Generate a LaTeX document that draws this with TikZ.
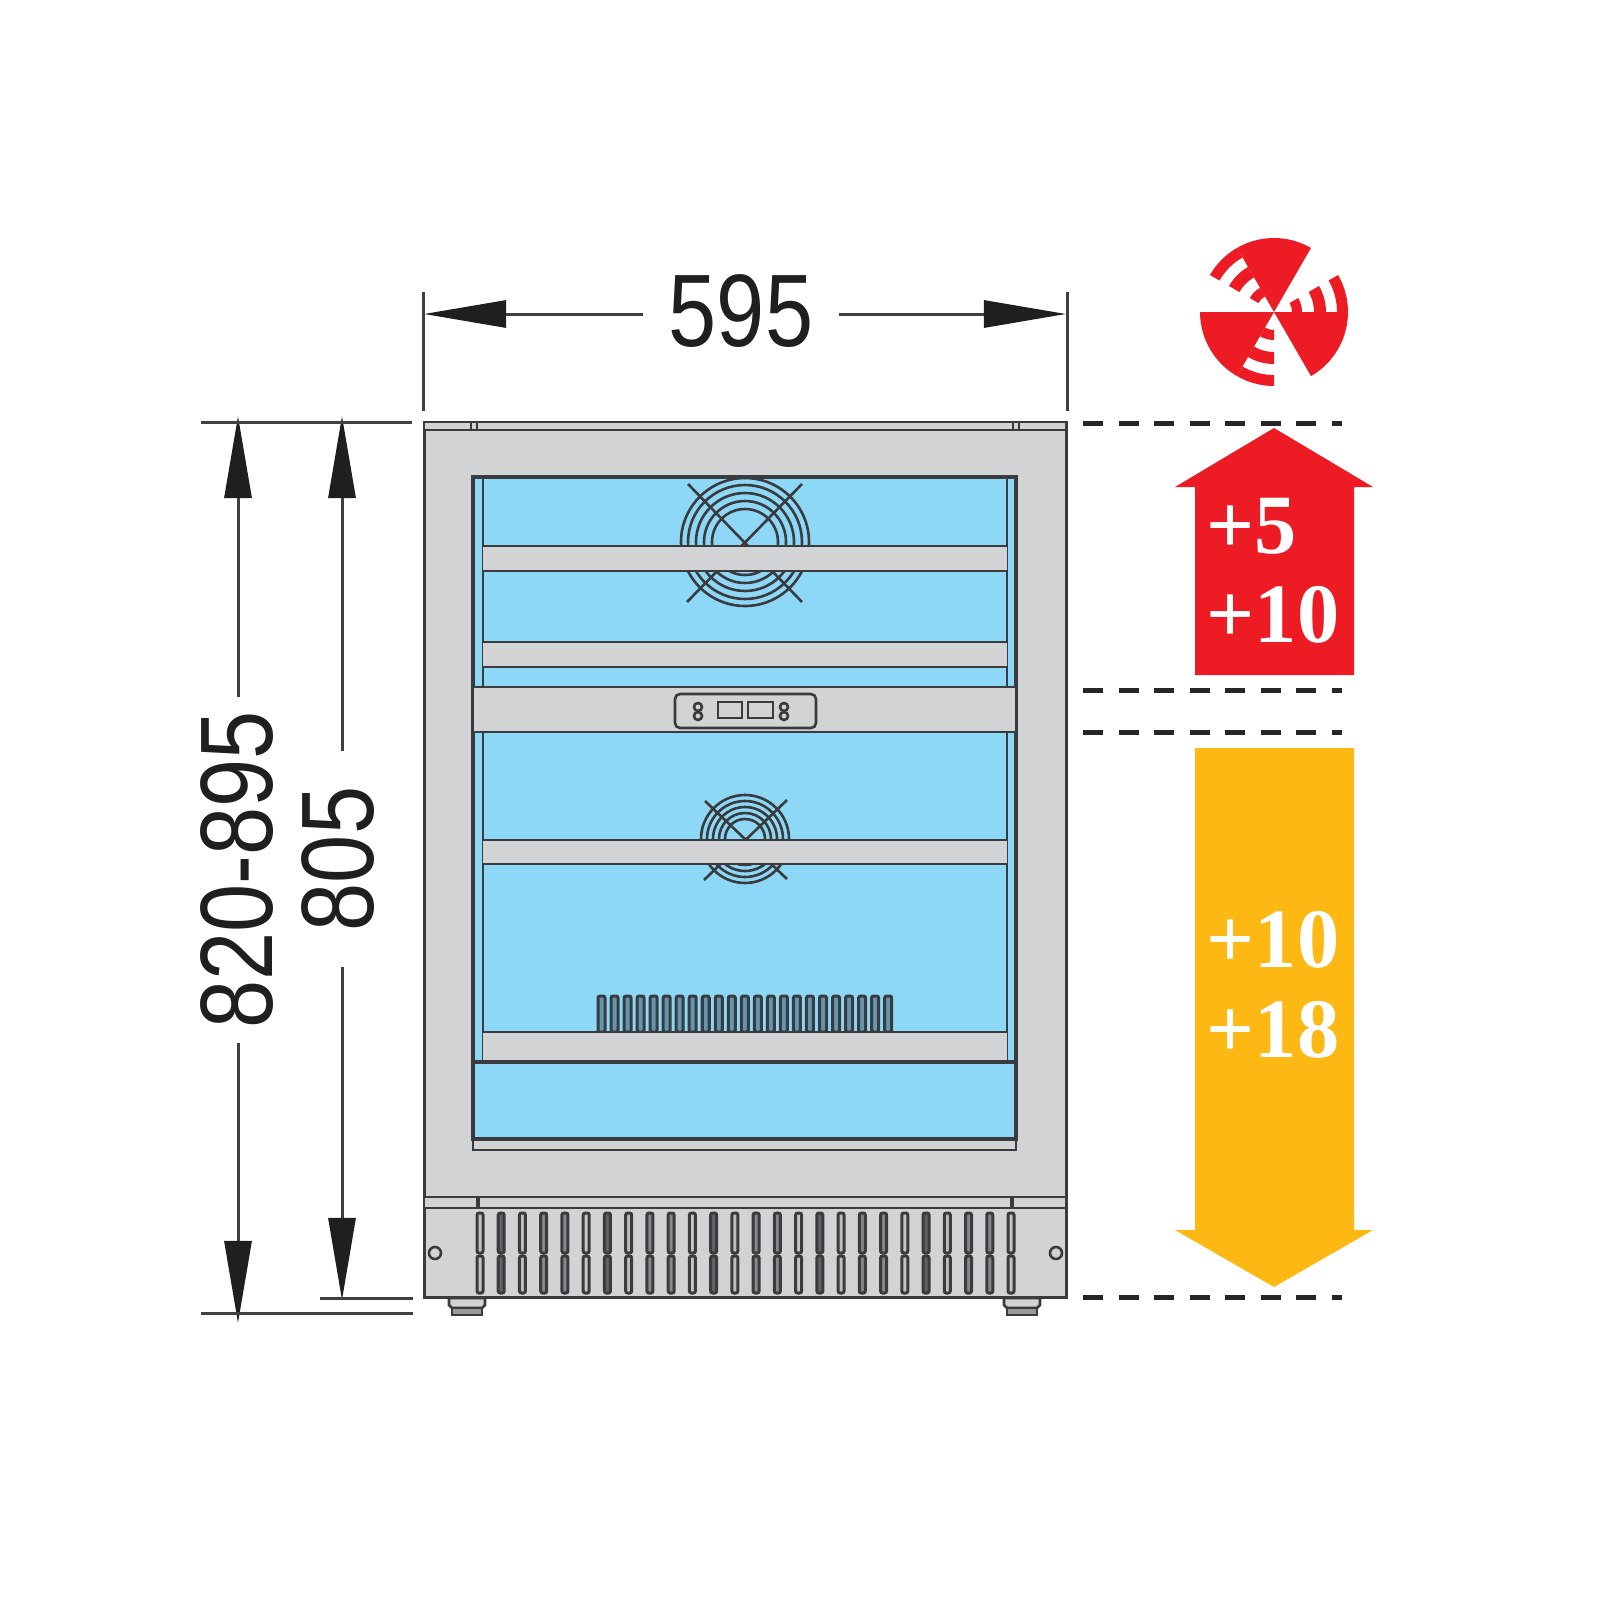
\documentclass[tikz,border=0pt]{standalone}
\usepackage{fontspec}
\setmainfont{Liberation Sans}
\newfontfamily\tempfont{Liberation Serif}
\usetikzlibrary{arrows.meta}
\definecolor{linegray}{HTML}{3A3B3D}
\definecolor{steel}{HTML}{D1D3D4}
\definecolor{glass}{HTML}{8DD7F7}
\definecolor{finblue}{HTML}{6396B0}
\definecolor{redzone}{HTML}{ED1C24}
\definecolor{yellowzone}{HTML}{FDB813}
\definecolor{vent0}{HTML}{C4C5C7}
\definecolor{vent1}{HTML}{626366}
\definecolor{vent2}{HTML}{BDBEC0}
\definecolor{vent3}{HTML}{87888B}
\definecolor{vent4}{HTML}{87888B}
\tikzset{
	part/.style={draw=linegray,line width=.026cm,fill=steel},
	wire/.style={draw=linegray,line width=.026cm},
	slot/.style={draw=linegray,line width=.03cm,rounded corners=.02cm},
	dimline/.style={draw=black!75,line width=.03cm},
	dimtip/.style={dimline,-{Triangle[length=.82cm,width=.27cm,color=black!88]}},
	dimtext/.style={inner xsep=.16cm,inner ysep=.1cm,text=black!88,font=\fontsize{29.3}{30}\selectfont,xscale=.84,transform shape},
	levelline/.style={draw=black!85,line width=.05cm,dash pattern=on .2cm off .155cm},
	templabel/.style={anchor=west,inner sep=0pt,text=white,font=\tempfont\bfseries\fontsize{24}{25}\selectfont}
}
\begin{document}
\begin{tikzpicture}[x=.01cm,y=-.01cm]
	\useasboundingbox (0,0) rectangle (1600,1600);
	% cabinet
	\filldraw[part,line width=.03cm] (424,422) rectangle (1066,1297);
	\draw[part] (424,422) rectangle (1066,430);
	\draw[part] (424,1197) rectangle (1066,1208);
	\draw[wire] (471,422)--(471,430);
	\draw[wire] (477,422)--(477,430);
	\draw[wire] (1013,422)--(1013,430);
	\draw[wire] (1019,422)--(1019,430);
	\draw[part,line width=.04cm] (478,1197)--(478,1208);
	\draw[part,line width=.04cm] (1012,1197)--(1012,1208);
	% glass
	\filldraw[part,fill=glass,line width=.034cm] (473,477) rectangle (1016,1139);
	\draw[part] (473,1139) rectangle (1016,1150);
	\draw[wire,line width=.04cm] (473,1139)--(1016,1139);
	\draw[wire] (483,477)--(483,1062);
	\draw[wire] (1007,477)--(1007,1062);
	% fans
	\foreach \r in {33,41,49,57,64}
		\draw[wire] (745,542) circle [radius=\r];
	\draw[wire] (688,484)--(802,602);
	\draw[wire] (802,484)--(687,602);
	\foreach \r in {20,26,32,38,44}
		\draw[wire] (745,839) circle [radius=\r];
	\draw[wire] (705,801)--(787,879);
	\draw[wire] (787,800)--(704,880);
	% rear grill
	\foreach \i in {0,...,22}
		\filldraw[slot,fill=finblue] ({598+13.03*\i},1032) rectangle ({605+13.03*\i},996);
	% shelves
	\foreach \ya/\yb in {546/571,642/667,840/864,1032/1061} {
		\fill[steel] (483,\ya) rectangle (1007,\yb);
		\draw[wire] (483,\ya)--(1007,\ya);
		\draw[wire] (483,\yb)--(1007,\yb);
	}
	\draw[wire,line width=.04cm] (473,1062)--(1016,1062);
	% control panel
	\filldraw[part] (473,687) rectangle (1016,732);
	\draw[part,rounded corners=.05cm] (675,694) rectangle (816,728);
	\draw[wire] (718,702) rectangle (742,718);
	\draw[wire] (748,702) rectangle (773,718);
	\foreach \x in {698,784}
		\foreach \y in {707,716}
			\draw[wire] (\x,\y) circle [radius=4];
	% plinth
	\foreach \i in {0,...,25} {
		\pgfmathtruncatemacro{\k}{mod(\i,5)}
		\pgfmathsetmacro{\sx}{480+21.24*\i}
		\filldraw[slot,fill=vent\k] ({\sx-3},1213) rectangle ({\sx+3},1253);
		\filldraw[slot,fill=vent\k] ({\sx-3},1256) rectangle ({\sx+3},1293);
	}
	\draw[wire] (435,1253) circle [radius=6];
	\draw[wire] (1056,1253) circle [radius=6];
	\foreach \x in {449,1004} {
		\filldraw[part] (\x,1298) -- ++(36,0) -- ++(0,7) -- ++(-3,3) -- ++(-30,0) -- ++(-3,-3) -- cycle;
		\filldraw[part,fill=gray!80] ({\x+3},1308) rectangle ({\x+33},1315);
	}
	% width
	\coordinate (widthL) at (424,314);
	\coordinate (widthR) at (1066,314);
	\node[dimtext,inner xsep=.3cm] (width) at (741,311) {595};
	\draw[dimtip] (width.west |- widthL)--(widthL);
	\draw[dimtip] (width.east |- widthR)--(widthR);
	\draw[dimline] (423,292)--(423,411);
	\draw[dimline] (1067,292)--(1067,411);
	% heights
	\coordinate (heightTopA) at (238,416);
	\coordinate (heightBotA) at (238,1323);
	\coordinate (heightTopB) at (342,416);
	\coordinate (heightBotB) at (342,1300);
	\node[rotate=90,dimtext] (heightA) at (237,870) {820-895};
	\node[rotate=90,dimtext,inner xsep=.42cm] (heightB) at (338,859) {805};
	\draw[dimtip] (heightA.east -| heightTopA)--(heightTopA);
	\draw[dimtip] (heightA.west -| heightBotA)--(heightBotA);
	\draw[dimtip] (heightB.east -| heightTopB)--(heightTopB);
	\draw[dimtip] (heightB.west -| heightBotB)--(heightBotB);
	\draw[dimline] (201,422)--(412,422);
	\draw[dimline] (201,1313)--(413,1313);
	\draw[dimline] (320,1298)--(413,1298);
	% levels
	\foreach \y in {423,690,732,1297}
		\draw[levelline] (1083,\y)--(1342,\y);
	% zones
	\fill[redzone] (1274,428)--(1373,487)--(1354,487)--(1354,675)--(1195,675)--(1195,487)--(1175,487)--cycle;
	\fill[yellowzone] (1195,748)--(1354,748)--(1354,1230)--(1373,1230)--(1274,1287)--(1175,1230)--(1195,1230)--cycle;
	\node[templabel] (redA) at (1206,526) {+5};
	\node[templabel] (redB) at (1206,615) {+10};
	\node[templabel] (yellowA) at (1206,940) {+10};
	\node[templabel] (yellowB) at (1206,1030) {+18};
	% fan symbol
	\begin{scope}[shift={(1274,312)},yscale=-1]
		\foreach \a in {0,120,240} {
			\begin{scope}[rotate=\a]
				\fill[redzone] (0,0)--(180:74) arc [start angle=180,end angle=240,radius=74]--cycle;
				\foreach \ri/\ro in {63/74,40/52,18/28}
					\fill[redzone] (240:\ri) arc [start angle=240,end angle=270,radius=\ri]--(270:\ro) arc [start angle=270,end angle=240,radius=\ro]--cycle;
			\end{scope}
		}
	\end{scope}
\end{tikzpicture}
\end{document}
